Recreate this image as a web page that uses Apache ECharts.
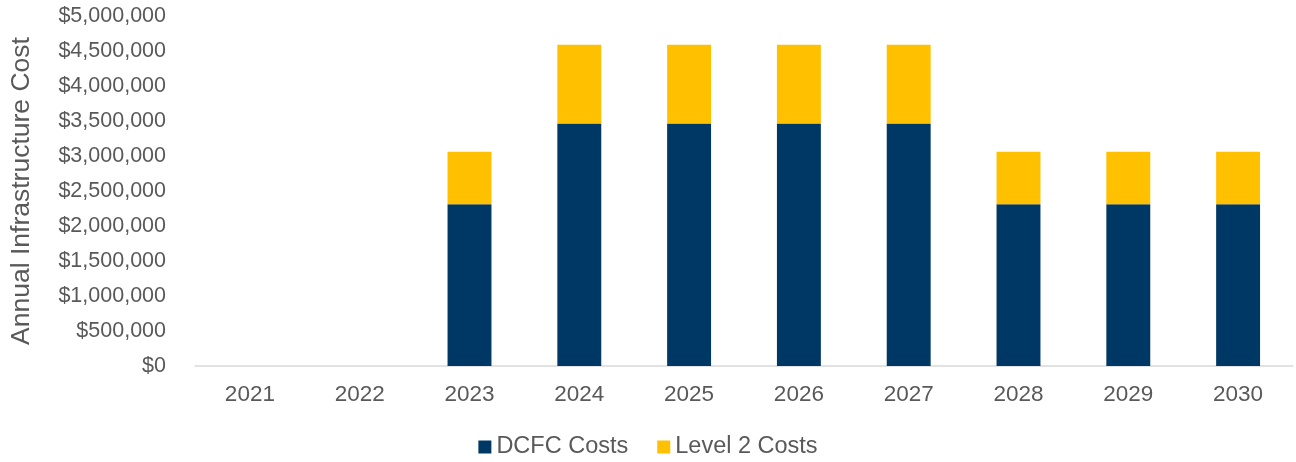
<!DOCTYPE html>
<html>
<head>
<meta charset="utf-8">
<script src="https://cdn.jsdelivr.net/npm/echarts@6/dist/echarts.min.js"></script>
<style>
  html, body { margin: 0; padding: 0; background: #fff; }
  #chart { width: 1296px; height: 462px; }
</style>
</head>
<body>
<div id="chart"></div>
<script>
// Annual charging infrastructure cost by year
const years = ['2021', '2022', '2023', '2024', '2025', '2026', '2027', '2028', '2029', '2030'];
const dcfcCosts = [0, 0, 2310000, 3465000, 3465000, 3465000, 3465000, 2310000, 2310000, 2310000];
const level2Costs = [0, 0, 750000, 1125000, 1125000, 1125000, 1125000, 750000, 750000, 750000];

const textColor = '#595959';
const font = 'Liberation Sans, Arial, sans-serif';

const chart = echarts.init(document.getElementById('chart'));
chart.setOption({
  animation: false,
  grid: { left: 193, right: 3, top: 16, bottom: 96, containLabel: false },
  legend: {
    top: 430,
    left: 'center',
    itemWidth: 13,
    itemHeight: 13,
    itemGap: 29,
    icon: 'rect',
    textStyle: { color: textColor, fontSize: 23.5, fontFamily: font },
    data: ['DCFC Costs', 'Level 2 Costs']
  },
  xAxis: {
    type: 'category',
    data: years,
    axisLine: { lineStyle: { color: '#d9d9d9', width: 1.5 } },
    axisTick: { show: false },
    axisLabel: { color: textColor, fontSize: 22.5, fontFamily: font, margin: 17 }
  },
  yAxis: {
    type: 'value',
    min: 0,
    max: 5000000,
    interval: 500000,
    name: 'Annual Infrastructure Cost',
    nameLocation: 'middle',
    nameGap: 160,
    nameTextStyle: { color: textColor, fontSize: 26.5, fontFamily: font },
    axisLine: { show: false },
    axisTick: { show: false },
    splitLine: { show: false },
    axisLabel: {
      color: textColor, fontSize: 21.5, fontFamily: font, margin: 29,
      formatter: v => '$' + v.toLocaleString('en-US')
    }
  },
  series: [
    {
      name: 'DCFC Costs', type: 'bar', stack: 'cost', data: dcfcCosts,
      barWidth: '40%', itemStyle: { color: '#003865' }
    },
    {
      name: 'Level 2 Costs', type: 'bar', stack: 'cost', data: level2Costs,
      barWidth: '40%', itemStyle: { color: '#ffc000' }
    }
  ]
});
</script>
</body>
</html>
